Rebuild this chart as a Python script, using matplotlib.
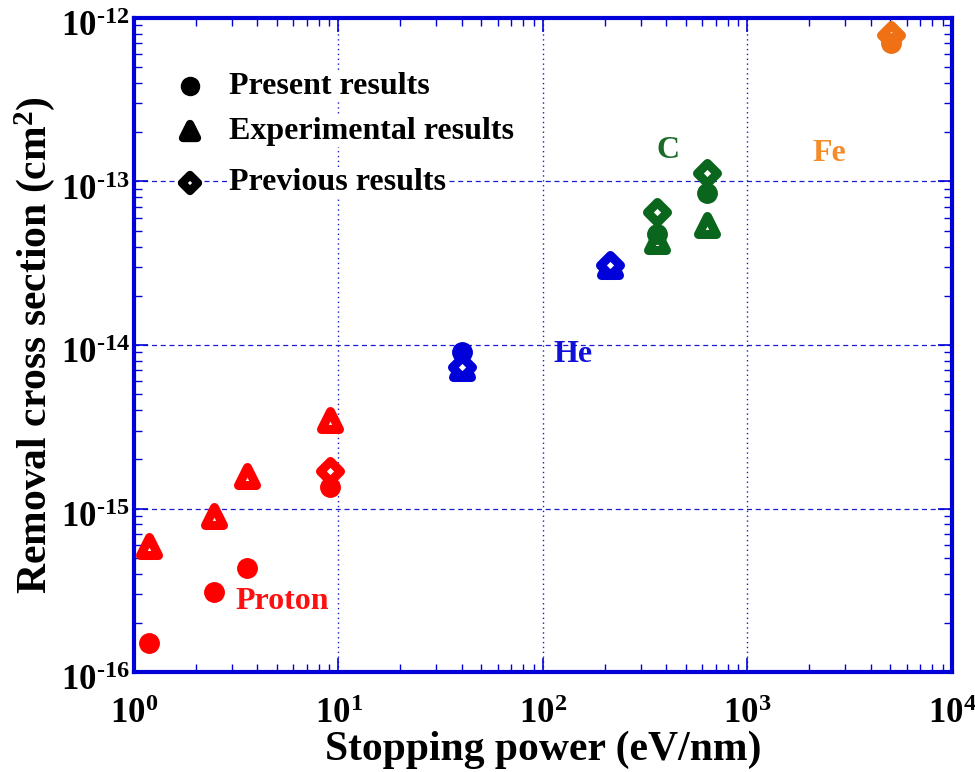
import matplotlib
matplotlib.use("Agg")
import matplotlib.pyplot as plt
from matplotlib.markers import MarkerStyle
from matplotlib.ticker import LogLocator, NullFormatter, FuncFormatter
import matplotlib.transforms as mtransforms
import numpy as np

plt.rcParams['font.family'] = ['Liberation Serif', 'DejaVu Serif']
plt.rcParams['mathtext.fontset'] = 'custom'
plt.rcParams['mathtext.rm'] = 'Liberation Serif:bold'
plt.rcParams['mathtext.it'] = 'Liberation Serif:bold'
plt.rcParams['mathtext.bf'] = 'Liberation Serif:bold'

# ---- data ----
ions = ["Proton", "He", "C", "Fe"]
ion_colors = ["#ff0000", "#0000d8", "#0b661d", "#f07014"]
label_colors = ["#ff1010", "#1010d8", "#1a6b2a", "#f58c2a"]

# present results (circles)
present_x = [[1.18, 2.46, 3.57, 9.1], [40.2], [361, 634], [5030]]
present_y = [[1.5e-16, 3.1e-16, 4.3e-16, 1.35e-15], [9.0e-15], [4.8e-14, 8.5e-14], [7.0e-13]]
# experimental results (triangles)
exp_x = [[1.18, 2.46, 3.57, 9.1], [40.2, 213], [361, 634], []]
exp_y = [[5.9e-16, 9.0e-16, 1.58e-15, 3.5e-15], [7.2e-15, 3.05e-14], [4.3e-14, 5.4e-14], []]
# previous results (diamonds)
prev_x = [[9.1], [40.2, 213], [361, 634], [5030]]
prev_y = [[1.7e-15], [7.3e-15, 3.1e-14], [6.5e-14, 1.12e-13], [7.9e-13]]

label_pos = [(5.3, 2.7e-16), (140, 8.8e-15), (410, 1.55e-13), (2500, 1.48e-13)]

legend_labels = ["Present results", "Experimental results", "Previous results"]

fig = plt.figure(figsize=(9.75, 7.72), dpi=100)
ax = fig.add_axes([0.1374, 0.1295, 0.8390, 0.8472])

axis_blue = "#0000d8"
grid_blue = "#1a1ad0"

tri = MarkerStyle('^', joinstyle='round')
dia = MarkerStyle('D', joinstyle='round')

for i, ion in enumerate(ions):
    c = ion_colors[i]
    if exp_x[i]:
        ax.plot(exp_x[i], exp_y[i], ls='none', marker=tri, ms=12.5, mfc='white',
                mec=c, mew=6.5, zorder=3)
    if prev_x[i]:
        ax.plot(prev_x[i], prev_y[i], ls='none', marker=dia, ms=10, mfc='white',
                mec=c, mew=6.5, zorder=4)
    ax.plot(present_x[i], present_y[i], ls='none', marker='o', ms=14, mfc=c,
            mec=c, mew=1, zorder=5)
    ax.text(label_pos[i][0], label_pos[i][1], ion, color=label_colors[i],
            fontsize=23, fontweight='bold', ha='center', va='center')

ax.set_xscale('log')
ax.set_yscale('log')
ax.set_xlim(1, 1e4)
ax.set_ylim(1e-16, 1e-12)

ax.xaxis.set_major_locator(LogLocator(base=10, numticks=10))
ax.yaxis.set_major_locator(LogLocator(base=10, numticks=10))
ax.xaxis.set_minor_locator(LogLocator(base=10, subs=range(2, 10), numticks=20))
ax.yaxis.set_minor_locator(LogLocator(base=10, subs=range(2, 10), numticks=20))
ax.xaxis.set_minor_formatter(NullFormatter())
ax.yaxis.set_minor_formatter(NullFormatter())

def fmt(v, pos):
    e = int(np.round(np.log10(v)))
    return r"$10^{\text{%d}}$" % e

ax.xaxis.set_major_formatter(FuncFormatter(fmt))
ax.yaxis.set_major_formatter(FuncFormatter(fmt))

ax.tick_params(which='both', direction='in', top=True, right=True, color=axis_blue,
               labelsize=25)
ax.tick_params(which='major', length=10, width=1.2)
ax.tick_params(which='minor', length=6, width=1.0)
ax.tick_params(axis='x', which='major', pad=19)
ax.tick_params(axis='y', which='major', pad=3)

# shift y tick labels slightly downward, as in the reference
shift = mtransforms.ScaledTranslation(0, -4 / 72, fig.dpi_scale_trans)
for lab in ax.get_yticklabels():
    lab.set_transform(lab.get_transform() + shift)

for s in ax.spines.values():
    s.set_color(axis_blue)
    s.set_linewidth(3)

ax.grid(True, which='major', axis='y', color=grid_blue, ls=(0, (4, 3)), lw=0.9)
ax.grid(True, which='major', axis='x', color=grid_blue, ls=(0, (1, 2.5)), lw=1.0)
ax.set_axisbelow(True)

ax.set_xlabel("Stopping power (eV/nm)", fontsize=30, fontweight='bold')
ax.xaxis.set_label_coords(0.5, -0.09)
ax.set_ylabel("Removal cross section (cm$^2$)", fontsize=30, fontweight='bold')
ax.yaxis.set_label_coords(-0.094, 0.5)

# legend (drawn manually in axes coordinates)
leg_mx = 0.0685
leg_tx = 0.116
leg_rows = [0.896, 0.827, 0.748]
leg_markers = [
    dict(marker='o', ms=13, mfc='black', mec='black', mew=1),
    dict(marker=tri, ms=10, mfc='white', mec='black', mew=6),
    dict(marker=dia, ms=8.5, mfc='white', mec='black', mew=6),
]
for row, lab, mk in zip(leg_rows, legend_labels, leg_markers):
    ax.text(leg_tx, row, lab, transform=ax.transAxes, fontsize=23, fontweight='bold',
            ha='left', va='center', zorder=6,
            bbox=dict(facecolor='white', edgecolor='none', pad=1))
    ax.plot([leg_mx], [row], ls='none', transform=ax.transAxes, zorder=7, **mk)

fig.savefig("out.png", dpi=100)
